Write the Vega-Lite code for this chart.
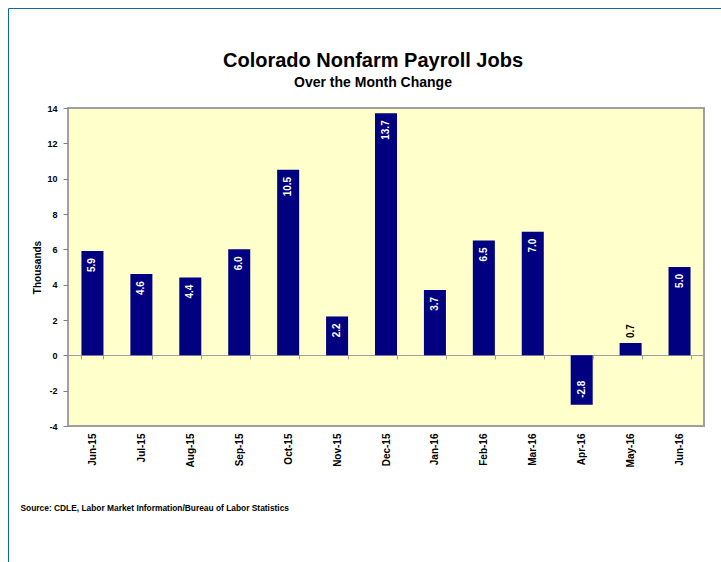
{
  "$schema": "https://vega.github.io/schema/vega-lite/v6.json",
  "width": 636,
  "height": 318,
  "autosize": {"type": "none"},
  "padding": {"left": 68, "top": 108, "right": 17, "bottom": 136},
  "background": "white",
  "config": {
    "font": "Liberation Sans",
    "view": {"fill": "#FFFFCC", "stroke": "#A0A0A0", "strokeWidth": 2}
  },
  "title": {
    "text": "Colorado Nonfarm Payroll Jobs",
    "subtitle": "Over the Month Change",
    "fontSize": 20,
    "fontWeight": "bold",
    "subtitleFontSize": 14,
    "subtitleFontWeight": "bold",
    "color": "black",
    "subtitleColor": "black",
    "font": "Liberation Sans",
    "subtitleFont": "Liberation Sans",
    "anchor": "middle",
    "frame": "group",
    "dx": -13,
    "offset": -82,
    "subtitlePadding": 5
  },
  "data": {
    "values": [
      {"month": "Jun-15", "v": 5.9},
      {"month": "Jul-15", "v": 4.6},
      {"month": "Aug-15", "v": 4.4},
      {"month": "Sep-15", "v": 6.0},
      {"month": "Oct-15", "v": 10.5},
      {"month": "Nov-15", "v": 2.2},
      {"month": "Dec-15", "v": 13.7},
      {"month": "Jan-16", "v": 3.7},
      {"month": "Feb-16", "v": 6.5},
      {"month": "Mar-16", "v": 7.0},
      {"month": "Apr-16", "v": -2.8},
      {"month": "May-16", "v": 0.7},
      {"month": "Jun-16", "v": 5.0}
    ]
  },
  "transform": [
    {"calculate": "replace(format(datum.v, '.1f'), '\u2212', '-')", "as": "lab"}
  ],
  "encoding": {
    "x": {
      "field": "month",
      "type": "nominal",
      "sort": null,
      "scale": {"paddingInner": 0.55, "paddingOuter": 0.275},
      "axis": {
        "orient": "bottom",
        "offset": -71,
        "domain": true,
        "domainColor": "#A0A0A0",
        "domainWidth": 1,
        "ticks": true,
        "tickBand": "extent",
        "tickColor": "#A0A0A0",
        "tickSize": 4,
        "labelAngle": 270,
        "labelAlign": "right",
        "labelBaseline": "middle",
        "labelPadding": 74,
        "labelFontSize": 10,
        "labelFontWeight": "bold",
        "labelColor": "black",
        "title": "Source: CDLE, Labor Market Information/Bureau of Labor Statistics",
        "titleX": -48,
        "titleY": 152,
        "titleAlign": "left",
        "titleBaseline": "middle",
        "titleAngle": 0,
        "titleFontSize": 8.4,
        "titleFontWeight": "bold",
        "titleColor": "black"
      }
    },
    "y": {
      "field": "v",
      "type": "quantitative",
      "scale": {"domain": [-4, 14], "nice": false, "zero": true},
      "axis": {
        "values": [-4, -2, 0, 2, 4, 6, 8, 10, 12, 14],
        "labelExpr": "replace(format(datum.value, 'd'), '\u2212', '-')",
        "labelOverlap": false,
        "grid": false,
        "domain": false,
        "ticks": true,
        "tickColor": "#808080",
        "tickSize": 5,
        "labelPadding": 6,
        "labelFontSize": 9,
        "labelFontWeight": "bold",
        "labelColor": "black",
        "title": "Thousands",
        "titleFontSize": 10,
        "titleFontWeight": "bold",
        "titleColor": "black",
        "titlePadding": 4
      }
    }
  },
  "layer": [
    {
      "mark": {"type": "bar", "color": "#000080"}
    },
    {
      "transform": [{"filter": "datum.v >= 1"}],
      "mark": {"type": "text", "angle": 270, "align": "right", "baseline": "middle", "dx": -7, "color": "white", "fontSize": 10, "fontWeight": "bold"},
      "encoding": {"text": {"field": "lab", "type": "nominal"}}
    },
    {
      "transform": [{"filter": "datum.v < 0"}],
      "mark": {"type": "text", "angle": 270, "align": "left", "baseline": "middle", "dx": 7, "color": "white", "fontSize": 10, "fontWeight": "bold"},
      "encoding": {"text": {"field": "lab", "type": "nominal"}}
    },
    {
      "transform": [{"filter": "datum.v >= 0 && datum.v < 1"}],
      "mark": {"type": "text", "angle": 270, "align": "left", "baseline": "middle", "dx": 5, "color": "black", "fontSize": 10, "fontWeight": "bold"},
      "encoding": {"text": {"field": "lab", "type": "nominal"}}
    },
    {
      "transform": [{"filter": "datum.v >= 0 && datum.v < 1"}],
      "mark": {"type": "point", "opacity": 0, "filled": true},
      "encoding": {
        "shape": {
          "datum": "frame",
          "scale": {"range": ["square"]},
          "legend": {
            "orient": "none",
            "legendX": -60,
            "legendY": -100,
            "title": null,
            "padding": 0,
            "strokeColor": "#0B6AAE",
            "symbolSize": 640000,
            "symbolOpacity": 0,
            "symbolStrokeWidth": 0,
            "symbolFillColor": "transparent",
            "symbolStrokeColor": "transparent",
            "labelExpr": "''",
            "labelOpacity": 0,
            "labelFontSize": 1,
            "symbolOffset": 0,
            "encode": {"legend": {"update": {"strokeWidth": {"value": 2}}}}
          }
        }
      }
    }
  ]
}
